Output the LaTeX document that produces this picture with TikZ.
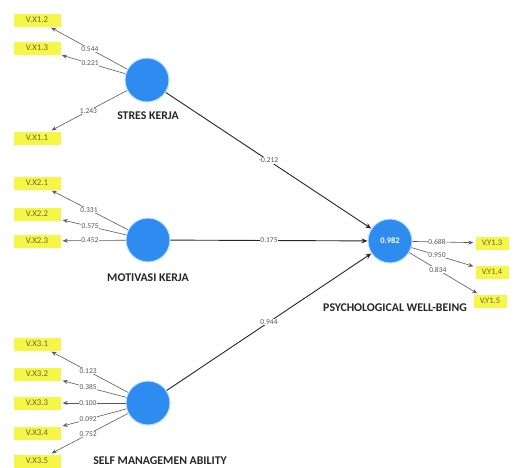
\documentclass[tikz,border=0pt]{standalone}
\usepackage{fontspec}
\setmainfont{Carlito}
\usetikzlibrary{arrows.meta}
\definecolor{lvblue}{RGB}{46,139,239}
\definecolor{lvring}{RGB}{190,228,250}
\definecolor{indyel}{RGB}{246,246,72}
\definecolor{indtxt}{RGB}{105,105,55}
\definecolor{wtxt}{RGB}{85,85,85}
\tikzset{
  latent/.style={circle, fill=lvblue, draw=lvring, line width=1pt, minimum size=44pt, inner sep=0pt, text=white, font=\fontsize{8.5}{9}\selectfont\bfseries},
  indleft/.style={rectangle, fill=indyel, minimum width=47pt, minimum height=13pt, inner sep=0pt, text=indtxt, font=\fontsize{8.8}{9}\selectfont},
  indright/.style={rectangle, fill=indyel, minimum width=33pt, minimum height=13pt, inner sep=0pt, text=indtxt, font=\fontsize{8.5}{9}\selectfont},
  lvlabel/.style={font=\fontsize{11.8}{12}\selectfont\bfseries, text=black!85},
  loadline/.style={draw=black!65, line width=0.6pt, -{Stealth[length=5pt,width=4pt]}, shorten >=2pt},
  pathline/.style={draw=black!85, line width=0.9pt, -{Stealth[length=6pt,width=5pt]}},
  wlabel/.style={fill=white, inner sep=0.6pt, text=wtxt, font=\fontsize{7.5}{8}\selectfont},
}
\begin{document}
\begin{tikzpicture}[x=1pt,y=-1pt]
\useasboundingbox (0,0) rectangle (517,467);
\clip (0,0) rectangle (517,467);
% latent variables
\node[latent] (sk) at (147,80) {};
\node[latent] (mk) at (148,240) {};
\node[latent] (sma) at (148,403) {};
\node[latent] (pwb) at (390,241) {0.982};
\node[lvlabel] (skl) at (148,116) {STRES KERJA};
\node[lvlabel] (mkl) at (148,278) {MOTIVASI KERJA};
\node[lvlabel] (smal) at (160,461) {SELF MANAGEMEN ABILITY};
\node[lvlabel] (pwbl) at (395,308) {PSYCHOLOGICAL WELL-BEING};
% indicators
\node[indleft] (x12) at (37,20) {V.X1.2};
\node[indleft] (x13) at (37,48) {V.X1.3};
\node[indleft] (x11) at (37,138) {V.X1.1};
\node[indleft] (x21) at (37,183) {V.X2.1};
\node[indleft] (x22) at (37,214) {V.X2.2};
\node[indleft] (x23) at (37,241) {V.X2.3};
\node[indleft] (x31) at (37,344) {V.X3.1};
\node[indleft] (x32) at (37,374) {V.X3.2};
\node[indleft] (x33) at (37,403) {V.X3.3};
\node[indleft] (x34) at (37,433) {V.X3.4};
\node[indleft] (x35) at (37,461) {V.X3.5};
\node[indright] (y13) at (492,243) {V.Y1.3};
\node[indright] (y14) at (492,272) {V.Y1.4};
\node[indright] (y15) at (490,301) {V.Y1.5};
% loadings
\draw[loadline] (sk) -- node[wlabel,pos=0.48]{0.544} (x12);
\draw[loadline] (sk) -- node[wlabel,pos=0.54]{0.221} (x13);
\draw[loadline] (sk) -- node[wlabel,pos=0.5]{1.243} (x11);
\draw[loadline] (mk) -- node[wlabel,pos=0.5]{0.331} (x21);
\draw[loadline] (mk) -- node[wlabel,pos=0.55]{0.575} (x22);
\draw[loadline] (mk) -- node[wlabel,pos=0.55]{0.452} (x23);
\draw[loadline] (sma) -- node[wlabel,pos=0.51]{0.123} (x31);
\draw[loadline] (sma) -- node[wlabel,pos=0.58]{0.385} (x32);
\draw[loadline] (sma) -- node[wlabel,pos=0.58]{0.100} (x33);
\draw[loadline] (sma) -- node[wlabel,pos=0.58]{0.092} (x34);
\draw[loadline] (sma) -- node[wlabel,pos=0.51]{0.752} (x35);
\draw[loadline] (pwb) -- node[wlabel,pos=0.39]{0.688} (y13);
\draw[loadline] (pwb) -- node[wlabel,pos=0.4]{0.950} (y14);
\draw[loadline] (pwb) -- node[wlabel,pos=0.41]{0.834} (y15);
% paths
\draw[pathline] (sk) -- node[wlabel,pos=0.5]{-0.212} (pwb);
\draw[pathline] (mk) -- node[wlabel,pos=0.5]{0.175} (pwb);
\draw[pathline] (sma) -- node[wlabel,pos=0.5]{0.944} (pwb);
\end{tikzpicture}
\end{document}
